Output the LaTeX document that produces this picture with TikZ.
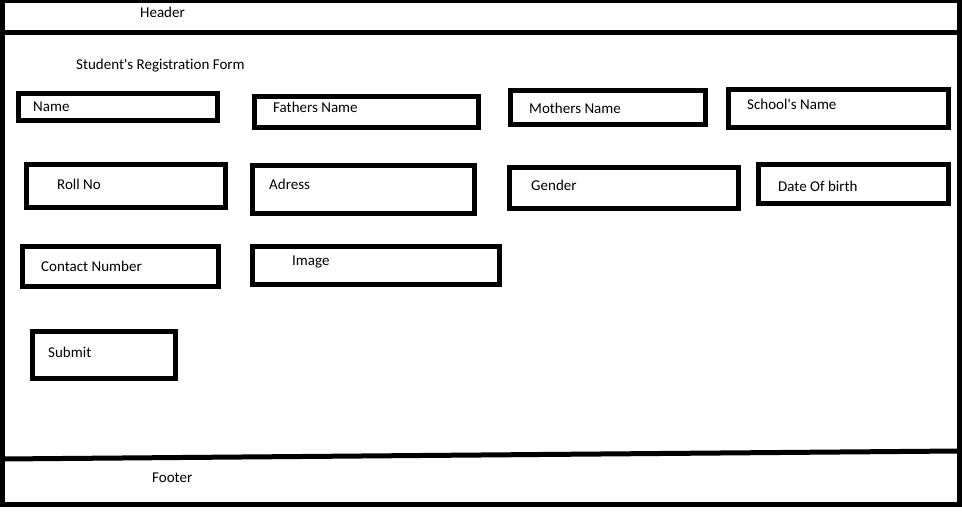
\documentclass[tikz,border=0pt]{standalone}
\usepackage{fontspec}
\setmainfont[Ligatures={NoCommon}]{Carlito}
\begin{document}
\begin{tikzpicture}[x=1pt,y=-1pt,
  frame/.style={line width=5pt, line join=miter},
  fieldbox/.style={draw, line width=5pt, line join=miter},
  lbl/.style={anchor=base west, inner sep=0pt, font=\fontsize{15}{17}\selectfont}]
\useasboundingbox[fill=white] (0,0) rectangle (962,513);
% outer frame
\draw[frame] (2.5,0.5) rectangle (959.5,504.5);
% header separator
\draw[frame] (2.5,32.5) -- (959.5,32.5);
% footer separator (slightly sloped)
\draw[frame] (2.5,459) -- (959.5,451);
% field boxes
\draw[fieldbox] (18.5,93.2) rectangle (217.5,120.8);
\draw[fieldbox] (254.5,96.5) rectangle (478.5,128);
\draw[fieldbox] (510.5,90.5) rectangle (705.5,124.5);
\draw[fieldbox] (728.5,89.5) rectangle (948.5,127.5);
\draw[fieldbox] (26.5,164.5) rectangle (225.5,207.5);
\draw[fieldbox] (252.5,165.5) rectangle (474.5,213.5);
\draw[fieldbox] (509.5,167.5) rectangle (738.5,208.5);
\draw[fieldbox] (758.5,164.5) rectangle (948.5,203.5);
\draw[fieldbox] (22.5,246.5) rectangle (218.5,286.5);
\draw[fieldbox] (252.5,246.5) rectangle (499.5,284.5);
\draw[fieldbox] (32.5,331.5) rectangle (175.5,378.5);
% texts
\node[lbl] (header) at (140,18) {Header};
\node[lbl] (title) at (76,70) {Student\textquotesingle s Registration Form};
\node[lbl] (name) at (33,111.5) {Name};
\node[lbl] (father) at (273,113) {Fathers Name};
\node[lbl] (mother) at (529,114) {Mothers Name};
\node[lbl] (school) at (747,110) {School\textquotesingle s Name};
\node[lbl] (roll) at (57,190) {Roll No};
\node[lbl] (adress) at (269,190) {Adress};
\node[lbl] (gender) at (531,190.5) {Gender};
\node[lbl] (dob) at (778,192) {Date Of birth};
\node[lbl] (contact) at (41,271.5) {Contact Number};
\node[lbl] (image) at (292,265.5) {Image};
\node[lbl] (submit) at (48,357) {Submit};
\node[lbl] (footer) at (152,482) {Footer};
\end{tikzpicture}
\end{document}
